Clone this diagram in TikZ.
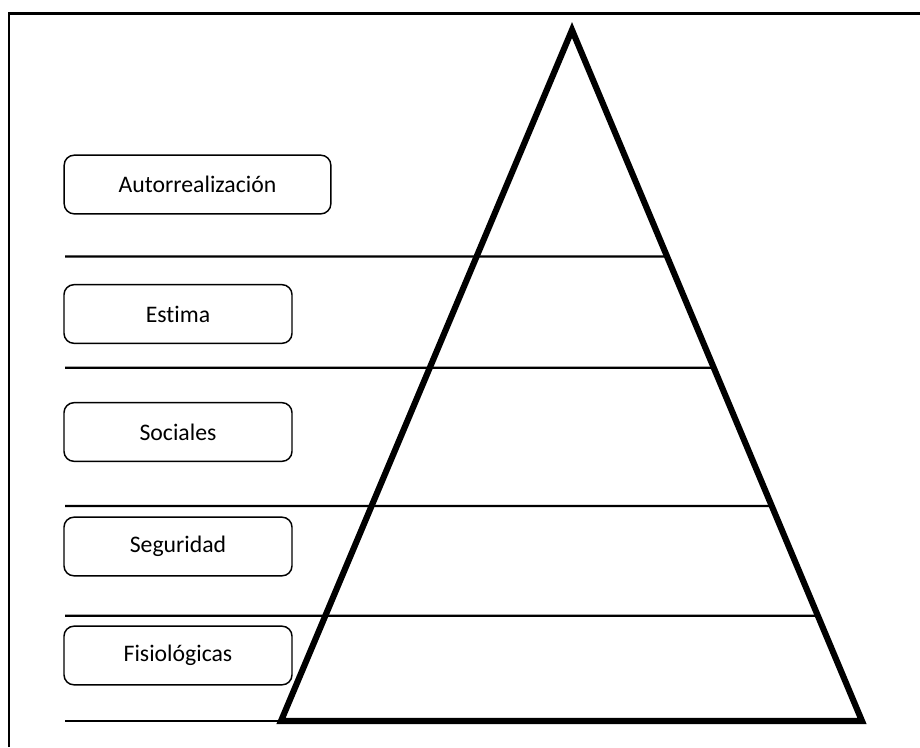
\documentclass[tikz,border=0pt]{standalone}
\usepackage{fontspec}
\setmainfont{Carlito}[Ligatures={NoCommon}]
\usetikzlibrary{calc}
\tikzset{
  level/.style={draw=black, line width=1.1pt, rounded corners=7.5pt, minimum height=44pt, inner sep=0pt, font=\fontsize{17.8}{21}\selectfont},
  sep/.style={draw=black, line width=1.8pt},
  tri/.style={draw=black, line width=4.6pt, line join=miter},
  frame/.style={draw=black, line width=1.6pt}
}
\begin{document}
\begin{tikzpicture}[x=0.75pt, y=-0.75pt]
\useasboundingbox (0,0) rectangle (920,747);
\draw[frame] (9,747) -- (9,13.5) -- (920,13.5);
% triangle
\coordinate (A) at (572,30);
\coordinate (BL) at (281,721);
\coordinate (BR) at (862,721);
\draw[tri] (A) -- (BL) -- (BR) -- cycle;
% separator lines
\coordinate (s1) at (65,256.5);
\coordinate (s2) at (65,367.7);
\coordinate (s3) at (65,506);
\coordinate (s4) at (65,615.7);
\coordinate (s5) at (65,721);
\draw[sep] (s1) -- ($(A)!{(256.5-30)/691}!(BR)$);
\draw[sep] (s2) -- ($(A)!{(367.7-30)/691}!(BR)$);
\draw[sep] (s3) -- ($(A)!{(506-30)/691}!(BR)$);
\draw[sep] (s4) -- ($(A)!{(615.7-30)/691}!(BR)$);
\draw[sep] (s5) -- (BL);
% boxes
\node[level, minimum width=200pt] (auto) at (197.5,184.5) {Autorrealización};
\node[level, minimum width=171pt] (est) at (178,314) {Estima};
\node[level, minimum width=171pt] (soc) at (178,432) {Sociales};
\node[level, minimum width=171pt] (seg) at (178,546.5) {Seguridad};
\node[level, minimum width=171pt] (fis) at (178,655.5) {Fisiológicas};
\end{tikzpicture}
\end{document}
